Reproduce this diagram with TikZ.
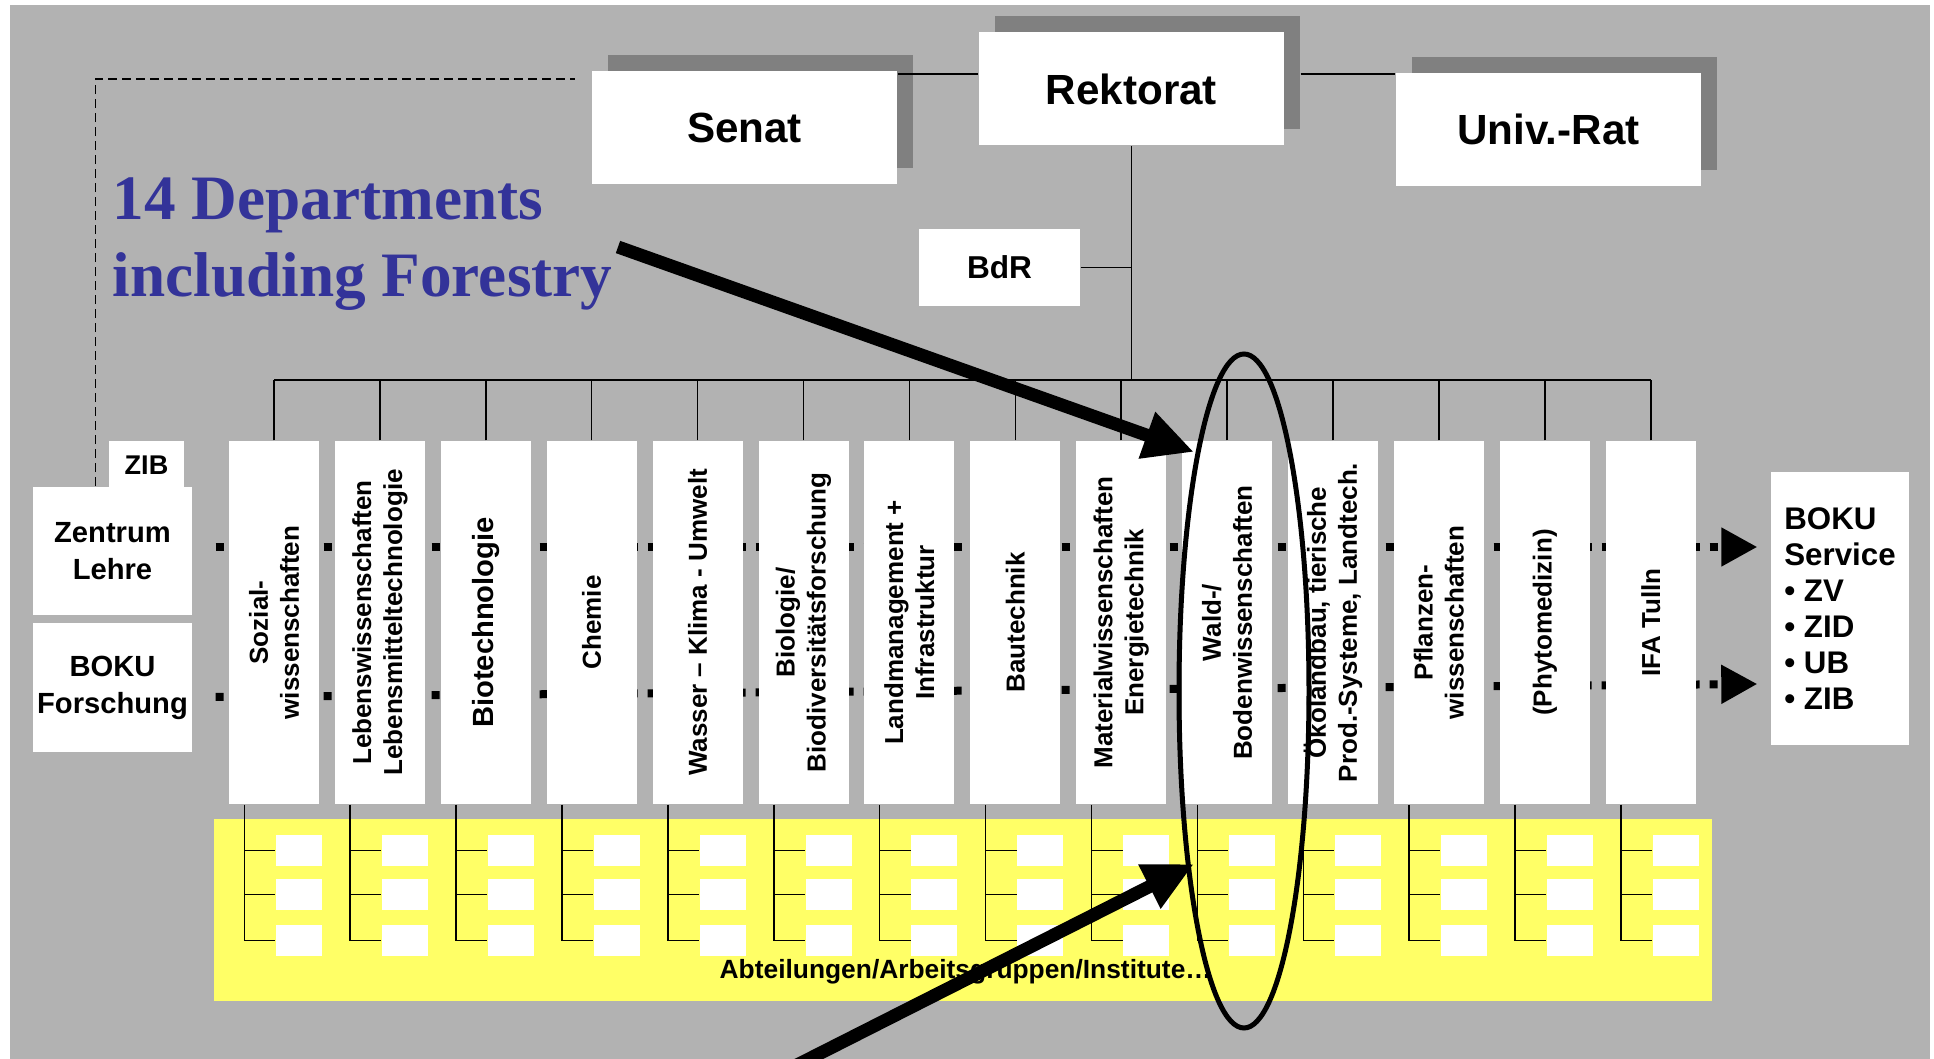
\documentclass[tikz,border=0pt]{standalone}
\usepackage{fontspec}
\setmainfont{Liberation Sans}
\newfontfamily\headfont{Liberation Serif}
\usetikzlibrary{arrows.meta,calc,shadows}
\definecolor{boardgray}{RGB}{178,178,178}
\definecolor{shadegray}{RGB}{128,128,128}
\definecolor{unitsyellow}{RGB}{255,255,102}
\definecolor{headblue}{RGB}{51,51,153}
\tikzset{
  board/.style={fill=white, inner sep=0pt},
  topbox/.style={board, minimum width=30.5mm, minimum height=11.3mm, font=\fontsize{12}{14}\selectfont\bfseries,
                 drop shadow={shadow xshift=1.6mm, shadow yshift=1.6mm, fill=shadegray, opacity=1}},
  sidebox/.style={board, minimum width=15.9mm, minimum height=12.85mm, align=center, font=\fontsize{8.3}{10.5}\selectfont\bfseries},
  dept/.style={board, minimum width=9mm, minimum height=36.3mm, font=\fontsize{7.4}{8.8}\selectfont\bfseries},
  unitbox/.style={board, minimum width=4.6mm, minimum height=3.1mm},
  treeline/.style={line width=0.45pt},
  dashline/.style={line width=0.4pt, dash pattern=on 0.9mm off 0.5mm},
  dotarrow/.style={line width=0.8mm, dash pattern=on 0.8mm off 1mm, -{Triangle[length=3.6mm, width=3.7mm]}},
  bigarrow/.style={line width=1.3mm, -{Triangle[length=5mm, width=4.6mm]}},
  ring/.style={line width=0.5mm}
}
\begin{document}
\begin{tikzpicture}[x=0.1mm, y=-0.1mm]
  \useasboundingbox (0,0) rectangle (1934,1059);
  \fill[white]       (0,0)    rectangle (1934,1059);
  \fill[boardgray]   (10,5)   rectangle (1930,1059);
  \fill[unitsyellow] (214,819) rectangle (1712,1001);

  \node[topbox] (senat)    at (744.5,127.5)  {Senat};
  \node[topbox] (rektorat) at (1131.5,89)    {Rektorat};
  \node[topbox] (unirat)   at (1548.5,129.5) {Univ.-Rat};
  \node[board, minimum width=16.1mm, minimum height=7.7mm, font=\fontsize{9}{11}\selectfont\bfseries] (bdr) at (999.5,267.5) {BdR};

  \node[anchor=west, align=left, inner sep=0pt, text=headblue, font=\headfont\bfseries\fontsize{18}{22}\selectfont] (title) at (112,244) {14 Departments\\including Forestry};

  \node[board, minimum width=7.5mm, minimum height=4.8mm, font=\fontsize{7.7}{9}\selectfont\bfseries] (zib) at (146.5,465) {ZIB};
  \node[sidebox] (lehre)     at (112.5,551)   {Zentrum\\Lehre};
  \node[sidebox] (forschung) at (112.5,687.5) {BOKU\\Forschung};
  \node[sidebox, minimum width=13.8mm, minimum height=27.3mm, align=left, font=\fontsize{8.9}{10.2}\selectfont\bfseries] (service) at (1840,608.5) {BOKU\\Service\\• ZV\\• ZID\\• UB\\• ZIB};

  \coordinate (toprow)  at (0,74);
  \coordinate (dashtop) at (0,79);
  \coordinate (bus)     at (0,380);
  \draw[treeline] (senat.east |- toprow) -- (rektorat.west |- toprow);
  \draw[treeline] ($(rektorat.east |- toprow)+(16,0)$) -- (unirat.west |- toprow);
  \draw[dashline] ($(lehre.north west)+(63,0)$) |- ($(senat.west |- dashtop)+(-16,0)$);
  \draw[treeline] (rektorat.south) -- (rektorat.south |- bus);
  \draw[treeline] (bdr.east) -- (bdr.east -| rektorat.south);

  \coordinate (dotsup)  at ($(lehre.east)+(23,-4)$);
  \coordinate (dotslow) at ($(forschung.east)+(23,9.5)$);
  \draw[dotarrow] (dotsup)  -- ($(service.west |- dotsup)+(-13,0)$);
  \draw[dotarrow] (dotslow) -- ($(service.west |- dotslow)+(-13,-13)$);

  \foreach \txt [count=\i] in {
      {Sozial-\\wissenschaften},
      {Lebenswissenschaften\\Lebensmitteltechnologie},
      {\fontsize{8.3}{10}\selectfont Biotechnologie},
      {Chemie},
      {Wasser – Klima - Umwelt},
      {Biologie/\\Biodiversitätsforschung},
      {Landmanagement +\\Infrastruktur},
      {Bautechnik},
      {Materialwissenschaften\\Energietechnik},
      {Wald-/\\Bodenwissenschaften},
      {Ökolandbau, tierische\\Prod.-Systeme, Landtech.},
      {Pflanzen-\\wissenschaften},
      {(Phytomedizin)},
      {IFA Tulln}}
  {
    \node[dept] (d\i) at ({274+105.9*(\i-1)},622.5) {\rotatebox{90}{\parbox{34mm}{\centering\txt}}};
    \draw[treeline] (d\i.north) -- (d\i.north |- bus);
    \foreach \k/\yy in {1/850.5, 2/894.5, 3/940.5}
      \node[unitbox] (u\i-\k) at ({299+105.9*(\i-1)},\yy) {};
    \draw[treeline] ($(d\i.south west)+(16,0)$) coordinate (t\i) |- (u\i-3.west)
                    (t\i |- u\i-1.west) -- (u\i-1.west)
                    (t\i |- u\i-2.west) -- (u\i-2.west);
  }
  \draw[treeline] (d1.north |- bus) -- (d14.north |- bus);

  \node[anchor=base west, inner sep=0pt, font=\fontsize{7.5}{9}\selectfont\bfseries] (units) at (719,979) {Abteilungen/Arbeitsgruppen/Institute…};

  \draw[ring] (1244,691) ellipse [x radius=65, y radius=337];
  \coordinate (hinttail) at (618,247);
  \coordinate (hinthead) at (1194,452);
  \coordinate (unittail) at (795,1066);
  \coordinate (unithead) at (1194,864);
  \draw[bigarrow] (hinttail) -- (hinthead);
  \draw[bigarrow] (unittail) -- (unithead);
\end{tikzpicture}
\end{document}
